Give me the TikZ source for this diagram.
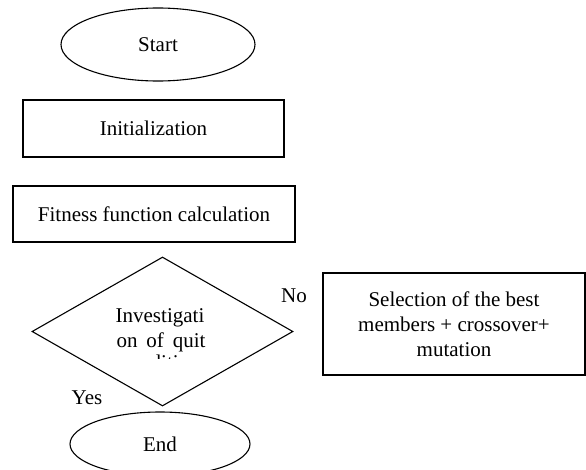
\documentclass[tikz,border=0pt]{standalone}
\usepackage{fontspec}
\setmainfont{Liberation Serif}
\usetikzlibrary{shapes.geometric}
\begin{document}
\begin{tikzpicture}[x=1pt,y=-1pt,
  every node/.style={font=\fontsize{21}{25}\selectfont, align=center, inner sep=0pt},
  shapeline/.style={draw, line width=1.1pt},
  term/.style={shapeline, ellipse},
  procbox/.style={shapeline, rectangle},
  decision/.style={shapeline, diamond}]
\useasboundingbox (0,0) rectangle (586,469);
\clip (0,0) rectangle (586,469);
\node[term, minimum width=194, minimum height=73] (start) at (158,44.5) {Start};
\node[procbox, minimum width=261, minimum height=57] (init) at (153.5,128.5) {Initialization};
\node[procbox, minimum width=282, minimum height=56] (fit) at (154,214) {Fitness function calculation};
\node[decision, minimum width=261, minimum height=149] (dec) at (162.5,331.5) {};
\node (dec1) at (160,318) {Investigati};
\node (dec2) at (161,342) {\makebox[89pt][s]{on of quit}};
\begin{scope}
\clip (100,300) rectangle (230,358);
\node[anchor=base] (dec3) at (160,369) {condition};
\end{scope}
\node (no) at (294,296) {No};
\node (yes) at (87,398) {Yes};
\node[procbox, minimum width=262, minimum height=102] (sel) at (454,324) {Selection of the best\\members + crossover+\\mutation};
\node[term, minimum width=180, minimum height=64] (end) at (160,444) {End};
\end{tikzpicture}
\end{document}
